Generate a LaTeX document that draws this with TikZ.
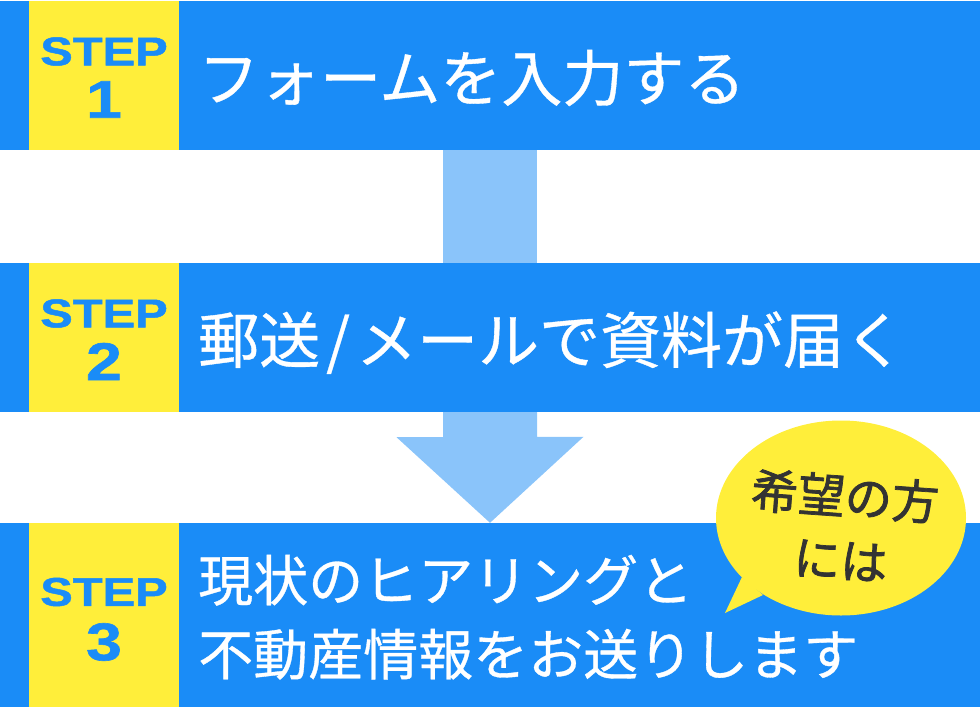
\documentclass[tikz,border=0pt]{standalone}
\usepackage{fontspec}
\setmainfont{Noto Sans CJK JP}[FakeBold=0.6]
\newfontfamily\wishfont{Noto Sans CJK JP}[FakeBold=1.6]
\newfontfamily\stepfont{Liberation Sans}[FakeStretch=1.22,FakeBold=1.2]
\usepackage{xcolor}
\usepackage{tikz}
\usetikzlibrary{positioning,shapes.geometric,calc}
\definecolor{barblue}{HTML}{1A8CF7}
\definecolor{flowblue}{HTML}{8AC4FA}
\definecolor{stepyellow}{HTML}{FFEE3A}
\definecolor{inkgray}{HTML}{333333}

\begin{document}
\begin{tikzpicture}[x=1pt,y=-1pt,
 bar/.style={fill=barblue,inner sep=0,minimum width=980pt},
 stepbox/.style={fill=stepyellow,inner sep=0,minimum width=150pt},
 steplabel/.style={text=barblue,inner sep=0,font=\stepfont\bfseries\fontsize{40}{40}\selectfont},
 stepnum/.style={text=barblue,inner sep=0,font=\stepfont\bfseries\fontsize{53}{53}\selectfont},
 maintext/.style={text=white,anchor=base west,inner sep=0,font=\fontsize{61}{61}\selectfont},
 flow/.style={fill=flowblue},
 bubble/.style={ellipse,fill=stepyellow,inner sep=0,minimum width=250pt,minimum height=195pt}
]
\useasboundingbox (0,0) rectangle (980,709);
\node[bar,minimum height=149pt] (bar1) at (490,75.5) {};
\node[bar,minimum height=149pt] (bar2) at (490,337.5) {};
\node[bar,minimum height=184pt] (bar3) at (490,615) {};
\node[stepbox,minimum height=149pt] (step1) at (104,75.5) {};
\node[stepbox,minimum height=149pt] (step2) at (104,337.5) {};
\node[stepbox,minimum height=184pt] (step3) at (104,615) {};
\node[steplabel] (step1lbl) at ($(step1)+(0,-24)$) {STEP};
\node[stepnum] (step1num) at ($(step1)+(0,24)$) {1};
\node[steplabel] (step2lbl) at ($(step2)+(0,-24)$) {STEP};
\node[stepnum] (step2num) at ($(step2)+(0,24)$) {2};
\node[steplabel] (step3lbl) at ($(step3)+(0,-23)$) {STEP};
\node[stepnum] (step3num) at ($(step3)+(0,27)$) {3};
\node[maintext] (text1) at (198,101) {フォームを入力する};
\node[maintext] (text2) at (198,363) {郵送\kern6pt/\kern6pt メールで資料が届く};
\node[maintext,font=\fontsize{55}{55}\selectfont] (text3a) at (198,601) {現状のヒアリングと};
\node[maintext,font=\fontsize{55}{55}\selectfont] (text3b) at (198,675) {不動産情報をお送りします};
% flow arrows
\fill[flow] ($(bar1.south)+(-47,0)$) rectangle ($(bar2.north)+(47,0)$);
\fill[flow] ($(bar2.south)+(-47,0)$) -- ++(0,25) -- ++(-46.5,0) -- (bar3.north) -- ++(93.5,-86) -- ++(-46.5,0) -- ($(bar2.south)+(47,0)$) -- cycle;
% speech bubble
\node[bubble] (wish) at (841,518) {};
\coordinate (tailtip) at ($(wish.center)+(-116,95)$);
\fill[stepyellow] ($(wish.center)+(-99,59)$) -- (tailtip) -- ($(wish.center)+(-78,77)$) -- cycle;
\node[text=inkgray,rotate=-4,align=center,font=\wishfont\fontsize{47}{64}\selectfont] (wishtext) at (843,527) {希望の方\\には};
\end{tikzpicture}
\end{document}
